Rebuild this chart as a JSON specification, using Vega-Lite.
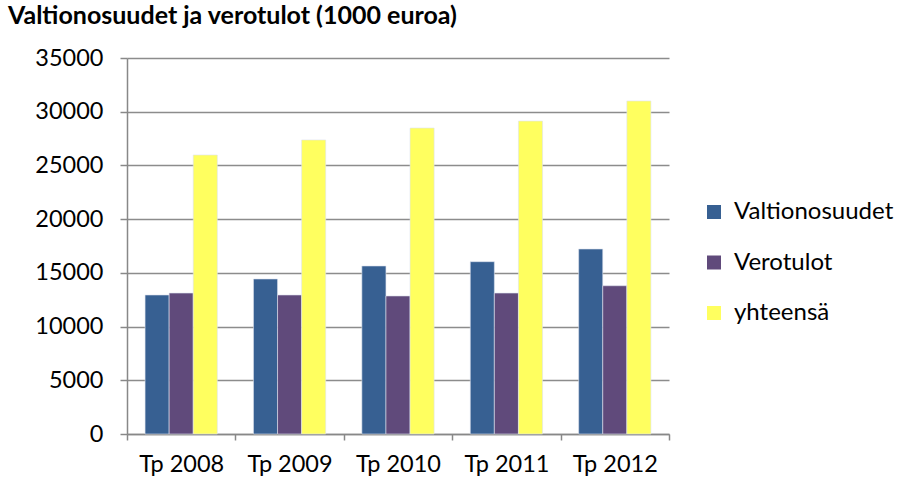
{
  "$schema": "https://vega.github.io/schema/vega-lite/v6.json",
  "width": 542,
  "height": 376,
  "autosize": {"type": "none"},
  "padding": {"left": 127, "top": 58, "right": 241, "bottom": 48},
  "background": "white",
  "title": {
    "text": "Valtionosuudet ja verotulot (1000 euroa)",
    "anchor": "start",
    "frame": "group",
    "font": "Lato",
    "fontSize": 25,
    "fontWeight": "bold",
    "color": "black",
    "dx": -119,
    "offset": 17
  },
  "data": {
    "values": [
      {"year": "Tp 2008", "series": "Valtionosuudet", "value": 12940},
      {"year": "Tp 2008", "series": "Verotulot", "value": 13120},
      {"year": "Tp 2008", "series": "yhteensä", "value": 25970},
      {"year": "Tp 2009", "series": "Valtionosuudet", "value": 14430},
      {"year": "Tp 2009", "series": "Verotulot", "value": 12940},
      {"year": "Tp 2009", "series": "yhteensä", "value": 27370},
      {"year": "Tp 2010", "series": "Valtionosuudet", "value": 15640},
      {"year": "Tp 2010", "series": "Verotulot", "value": 12850},
      {"year": "Tp 2010", "series": "yhteensä", "value": 28480},
      {"year": "Tp 2011", "series": "Valtionosuudet", "value": 16040},
      {"year": "Tp 2011", "series": "Verotulot", "value": 13120},
      {"year": "Tp 2011", "series": "yhteensä", "value": 29130},
      {"year": "Tp 2012", "series": "Valtionosuudet", "value": 17220},
      {"year": "Tp 2012", "series": "Verotulot", "value": 13800},
      {"year": "Tp 2012", "series": "yhteensä", "value": 31000}
    ]
  },
  "mark": {"type": "bar", "stroke": "#dde3ee", "strokeWidth": 0.6},
  "encoding": {
    "x": {
      "field": "year",
      "type": "nominal",
      "scale": {"paddingInner": 0, "paddingOuter": 0},
      "axis": {
        "title": null,
        "labelAngle": 0,
        "labelFont": "Lato",
        "labelFontSize": 23.5,
        "labelColor": "black",
        "labelPadding": 12,
        "tickBand": "extent",
        "tickSize": 6,
        "tickColor": "#888888",
        "domainColor": "#888888",
        "domainWidth": 1.5,
        "tickWidth": 1.5,
        "grid": false
      }
    },
    "xOffset": {
      "field": "series",
      "type": "nominal",
      "scale": {"paddingInner": 0, "paddingOuter": 0.75}
    },
    "y": {
      "field": "value",
      "type": "quantitative",
      "scale": {"domain": [0, 35000], "nice": false},
      "axis": {
        "title": null,
        "values": [0, 5000, 10000, 15000, 20000, 25000, 30000, 35000],
        "format": "d",
        "labelFont": "Lato",
        "labelFontSize": 23.5,
        "labelColor": "black",
        "labelPadding": 17,
        "tickSize": 7,
        "tickColor": "#888888",
        "tickWidth": 1.5,
        "domainColor": "#888888",
        "domainWidth": 1.5,
        "gridColor": "#8c8c8c",
        "gridWidth": 1.5
      }
    },
    "color": {
      "field": "series",
      "type": "nominal",
      "scale": {
        "domain": ["Valtionosuudet", "Verotulot", "yhteensä"],
        "range": ["#376092", "#604a7b", "#ffff5f"]
      },
      "legend": {
        "title": null,
        "orient": "none",
        "legendX": 575,
        "legendY": 142,
        "symbolType": "square",
        "symbolSize": 196,
        "symbolStrokeWidth": 0,
        "labelFont": "Lato",
        "labelFontSize": 24,
        "labelColor": "black",
        "rowPadding": 26.5,
        "labelOffset": 8
      }
    }
  },
  "config": {"view": {"stroke": null}}
}
